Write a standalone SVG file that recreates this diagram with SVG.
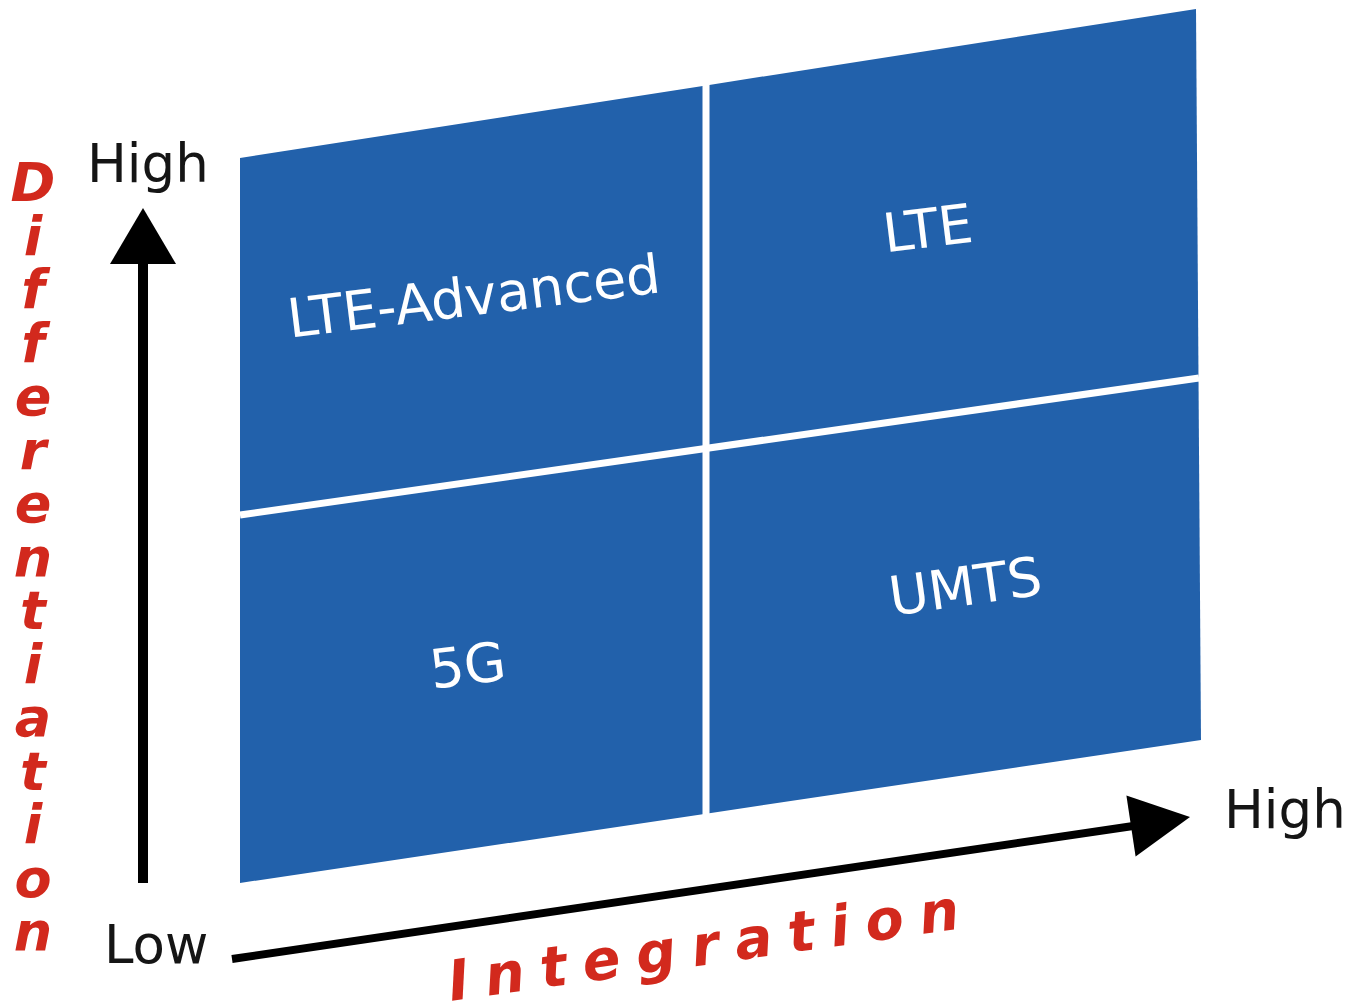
<svg xmlns="http://www.w3.org/2000/svg" width="1352" height="1007" viewBox="0 0 1352 1007">
<style>
.q{fill:#2261AB;}
.lbl{font-family:"DejaVu Sans","Verdana",sans-serif;font-size:54px;fill:#ffffff;text-anchor:middle;}
.axl{font-family:"DejaVu Sans","Verdana",sans-serif;font-size:53px;fill:#151515;}
.red{font-family:"DejaVu Sans",sans-serif;font-weight:bold;font-style:oblique;fill:#D2291D;}
.vert{writing-mode:vertical-rl;text-orientation:upright;}
.div{stroke:#ffffff;stroke-width:7;fill:none;}
.ax{stroke:#000000;fill:none;}
</style>
<rect width="1352" height="1007" fill="#ffffff"/>
<g id="q-lte-advanced">
<polygon class="q" points="240,158 706,85.4 706,448.5 240,515"/>
<text class="lbl" x="476" y="315" transform="rotate(-7 476 315)">LTE-Advanced</text>
</g>
<g id="q-lte">
<polygon class="q" points="706,85.4 1196,9 1198.5,378 706,448.5"/>
<text class="lbl" x="930" y="247" transform="rotate(-7 930 247)">LTE</text>
</g>
<g id="q-5g">
<polygon class="q" points="240,515 706,448.5 706,813.7 240,883"/>
<text class="lbl" x="470" y="684" transform="rotate(-7 470 684)">5G</text>
</g>
<g id="q-umts">
<polygon class="q" points="706,448.5 1198.5,378 1201,740 706,813.7"/>
<text class="lbl" x="968" y="605" transform="rotate(-8 968 605)">UMTS</text>
</g>
<g id="connectors">
<line class="div" x1="706" y1="84" x2="706" y2="815"/>
<line class="div" x1="240" y1="515" x2="1199" y2="378"/>
<line class="ax" x1="143" y1="883" x2="143" y2="255" stroke-width="10"/>
<polygon points="143,208 110,264 176,264" fill="#000000"/>
<line class="ax" x1="232" y1="959" x2="1140" y2="825" stroke-width="8"/>
<polygon points="1190,817 1126.4,795.4 1135.6,856.6" fill="#000000"/>
</g>
<g id="axis-labels">
<text class="axl" x="87" y="182">High</text>
<text class="axl" x="104" y="963">Low</text>
<text class="axl" x="1224" y="828">High</text>
</g>
<g id="label-differentiation">
<text class="red vert" font-size="54" x="33" y="151" letter-spacing="-9.5">Differentiation</text>
</g>
<g id="label-integration">
<text class="red" font-size="56" x="451" y="1001" letter-spacing="16" transform="rotate(-8.1 451 1001)">Integration</text>
</g>
</svg>
